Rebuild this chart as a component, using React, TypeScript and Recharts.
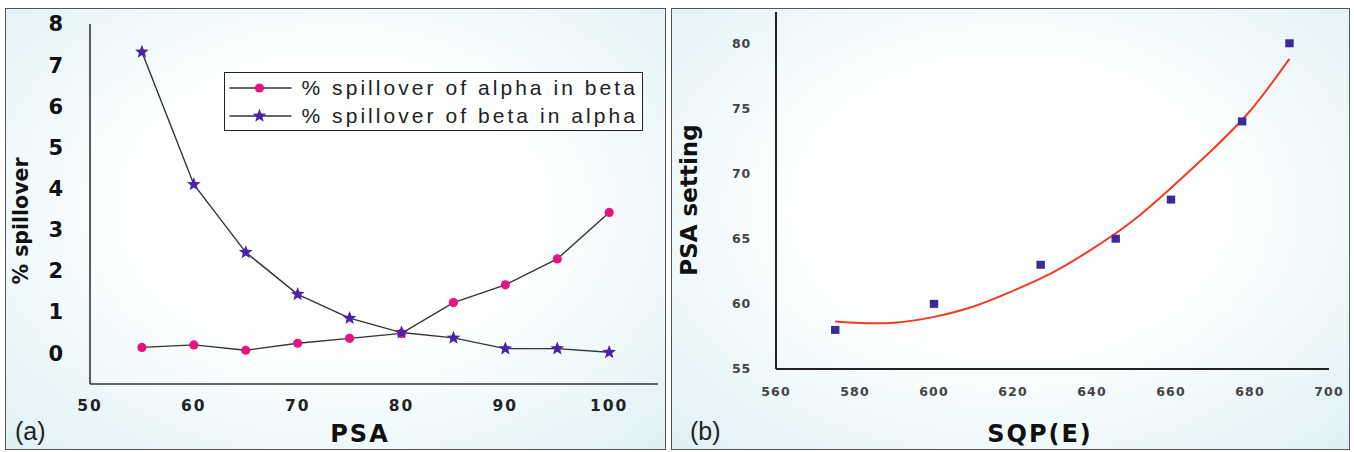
import React from 'react'
import { LineChart, Line, XAxis, YAxis, Legend, ComposedChart, Scatter } from 'recharts'

// panel (a): % spillover vs PSA
const PSA = [55, 60, 65, 70, 75, 80, 85, 90, 95, 100]
const ALPHA_IN_BETA = [0.14, 0.2, 0.07, 0.24, 0.36, 0.48, 1.23, 1.66, 2.29, 3.42]
const BETA_IN_ALPHA = [7.32, 4.1, 2.45, 1.43, 0.85, 0.5, 0.37, 0.11, 0.11, 0.02]
const PSA_TICKS = [50, 60, 70, 80, 90, 100]
const SPILL_TICKS = [0, 1, 2, 3, 4, 5, 6, 7, 8]
const SERIES_A = '% spillover of alpha in beta'
const SERIES_B = '% spillover of beta in alpha'

// panel (b): PSA setting vs SQP(E)
const SQP = [575, 600, 627, 646, 660, 678, 690]
const PSA_SETTING = [58, 60, 63, 65, 68, 74, 80]
const FIT_SQP = [575, 580, 590, 600, 610, 620, 630, 640, 650, 660, 670, 680, 690]
const FIT_PSA = [58.65, 58.55, 58.55, 59.0, 59.8, 61.0, 62.4, 64.2, 66.3, 68.9, 71.7, 74.8, 78.8]
const SQP_TICKS = [560, 580, 600, 620, 640, 660, 680, 700]
const SETTING_TICKS = [55, 60, 65, 70, 75, 80]

const PINK = '#e8137d'
const PURPLE = '#4b22a8'
const SQUARE = '#3b2a98'
const FIT_RED = '#f43a22'
const LINE = '#333'

const BOLD = '"DejaVu Sans", Verdana, sans-serif'
const PLAIN = '"Liberation Sans", Arial, sans-serif'

const spillData = PSA.map((p, i) => ({
  psa: p,
  alphaInBeta: ALPHA_IN_BETA[i],
  betaInAlpha: BETA_IN_ALPHA[i],
}))
const pointData = SQP.map((x, i) => ({ x, y: PSA_SETTING[i] }))
const fitData = FIT_SQP.map((x, i) => ({ x, y: FIT_PSA[i] }))

function PinkDot(props: any) {
  const { cx, cy } = props
  if (cx == null || cy == null) return null
  return <circle cx={cx} cy={cy} r={4.6} fill={PINK} />
}

function StarDot(props: any) {
  const { cx, cy } = props
  if (cx == null || cy == null) return null
  const pts: string[] = []
  for (let k = 0; k < 10; k++) {
    const r = k % 2 === 0 ? 7.2 : 3.1
    const a = -Math.PI / 2 + (k * Math.PI) / 5
    pts.push(`${cx + r * Math.cos(a)},${cy + r * Math.sin(a)}`)
  }
  return <polygon points={pts.join(' ')} fill={PURPLE} />
}

function SquareDot(props: any) {
  const { cx, cy } = props
  if (cx == null || cy == null) return null
  return <rect x={cx - 4.2} y={cy - 4} width={8.4} height={8} fill={SQUARE} />
}

function SpillLegend() {
  const rows = [
    { label: SERIES_A, Dot: PinkDot },
    { label: SERIES_B, Dot: StarDot },
  ]
  return (
    <div style={{
      width: 419, height: 59, border: '1.5px solid #222', boxSizing: 'border-box',
      background: '#fdfefe', paddingTop: 1,
    }}>
      {rows.map(({ label, Dot }) => (
        <div key={label} style={{ display: 'flex', alignItems: 'center', height: 28 }}>
          <svg width={70} height={28} style={{ display: 'block' }}>
            <line x1={4.5} x2={66.5} y1={14} y2={14} stroke={LINE} strokeWidth={1.4} />
            <Dot cx={34.5} cy={14} />
          </svg>
          <span style={{
            marginLeft: 6.5, fontFamily: PLAIN, fontSize: 21, letterSpacing: 3.05,
            color: '#222', whiteSpace: 'nowrap', lineHeight: '28px',
          }}>{label}</span>
        </div>
      ))}
    </div>
  )
}

const panelStyle = (left: number, width: number): React.CSSProperties => ({
  position: 'absolute', left, top: 8, width, height: 442, boxSizing: 'border-box',
  border: '1px solid #555',
  background: 'radial-gradient(ellipse 70% 75% at 50% 45%, #ffffff 40%, #eef8fa 75%, #e0f1f5 100%)',
})

export default function App() {
  return (
    <div style={{
      position: 'absolute', left: 0, top: 0, width: 1354, height: 452,
      background: '#ffffff', overflow: 'hidden',
    }}>
      <div style={panelStyle(5, 661)} />
      <div style={panelStyle(671, 679)} />

      <div style={{ position: 'absolute', left: 5, top: 8 }}>
        <LineChart width={661} height={442} data={spillData}
          margin={{ top: 16, right: 8, bottom: 36, left: 25 }}>
          <XAxis type="number" dataKey="psa" domain={[50, 104.7]} ticks={PSA_TICKS}
            height={30} tickLine={false} tickSize={0} tickMargin={16}
            axisLine={{ stroke: LINE, strokeWidth: 1.6 }}
            tick={{ fill: '#222', fontSize: 15.5, fontFamily: BOLD, fontWeight: 700, letterSpacing: 2 }} />
          <YAxis type="number" domain={[-0.75, 8]} ticks={SPILL_TICKS} width={60}
            tickLine={false} tickSize={0} tickMargin={27}
            axisLine={{ stroke: LINE, strokeWidth: 1.6 }}
            tick={{ fill: '#111', fontSize: 21, fontFamily: BOLD, fontWeight: 700 }} />
          <Legend layout="horizontal" verticalAlign="middle" align="center"
            wrapperStyle={{ left: 219, top: 64, width: 419, height: 59 }}
            content={() => <SpillLegend />} />
          <Line type="linear" dataKey="alphaInBeta" name={SERIES_A} stroke={LINE}
            strokeWidth={1.4} isAnimationActive={false}
            dot={(p: any) => <PinkDot key={`a-${p.index}`} {...p} />} activeDot={false} />
          <Line type="linear" dataKey="betaInAlpha" name={SERIES_B} stroke={LINE}
            strokeWidth={1.4} isAnimationActive={false}
            dot={(p: any) => <StarDot key={`b-${p.index}`} {...p} />} activeDot={false} />
        </LineChart>
      </div>

      <div style={{ position: 'absolute', left: 671, top: 8 }}>
        <ComposedChart width={679} height={442}
          margin={{ top: 4, right: 21, bottom: 51, left: 35 }}>
          <XAxis type="number" dataKey="x" domain={[560, 700]} ticks={SQP_TICKS}
            height={30} tickLine={false} tickSize={0} tickMargin={18}
            axisLine={{ stroke: '#222', strokeWidth: 2 }}
            tick={{ fill: '#444', fontSize: 12.5, fontFamily: BOLD, fontWeight: 700, letterSpacing: 1.2 }} />
          <YAxis type="number" dataKey="y" domain={[55, 82.4]} ticks={SETTING_TICKS} width={70}
            tickLine={false} tickSize={0} tickMargin={25}
            axisLine={{ stroke: '#222', strokeWidth: 2 }}
            tick={{ fill: '#444', fontSize: 12.5, fontFamily: BOLD, fontWeight: 700, letterSpacing: 0.8 }} />
          <Line data={fitData} type="natural" dataKey="y" stroke={FIT_RED} strokeWidth={2}
            dot={false} activeDot={false} isAnimationActive={false} />
          <Scatter data={pointData} dataKey="y" fill={SQUARE} shape={SquareDot}
            isAnimationActive={false} />
        </ComposedChart>
      </div>

      <svg width={1354} height={452} style={{ position: 'absolute', left: 0, top: 0, pointerEvents: 'none' }}>
        <text x={28} y={221} transform="rotate(-90 28 221)" textAnchor="middle"
          fontFamily={BOLD} fontWeight={700} fontSize={20.5} fill="#111">% spillover</text>
        <text x={360} y={442} textAnchor="middle" fontFamily={BOLD} fontWeight={700}
          fontSize={24} letterSpacing={2} fill="#111">PSA</text>
        <text x={15} y={440} fontFamily={PLAIN} fontSize={25} fill="#222">(a)</text>

        <text x={697} y={200} transform="rotate(-90 697 200)" textAnchor="middle"
          fontFamily={BOLD} fontWeight={700} fontSize={23} fill="#111">PSA setting</text>
        <text x={1040} y={442} textAnchor="middle" fontFamily={BOLD} fontWeight={700}
          fontSize={24} letterSpacing={2} fill="#111">SQP(E)</text>
        <text x={690} y={440} fontFamily={PLAIN} fontSize={25} fill="#222">(b)</text>
      </svg>
    </div>
  )
}
